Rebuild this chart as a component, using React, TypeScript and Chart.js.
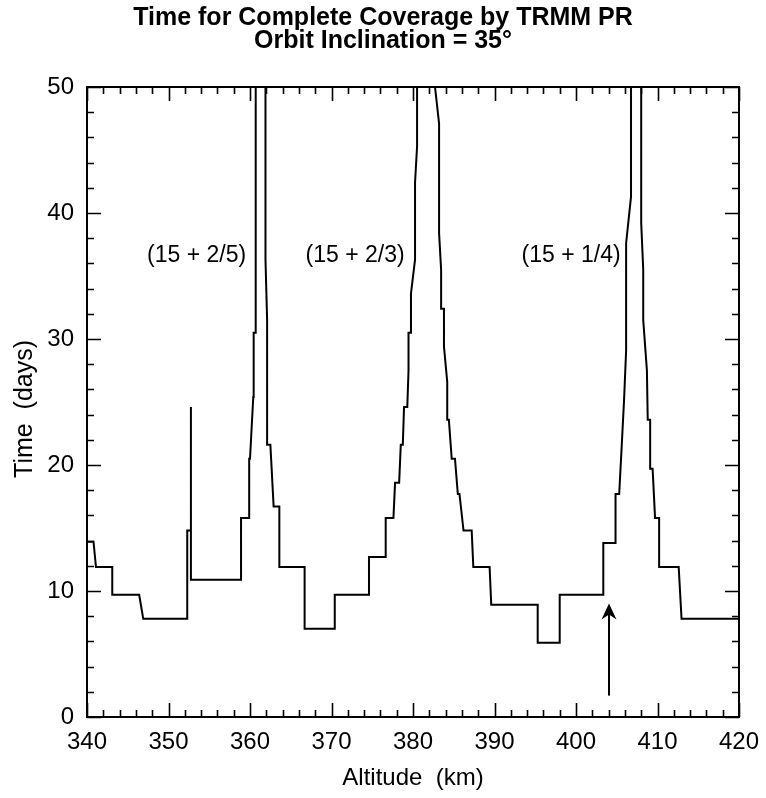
import React, { useEffect, useRef } from 'react';
import { Chart, registerables } from 'chart.js';

Chart.register(...registerables);

// ---- Data (altitude in km, coverage time in days) ----
const altitudeKm: number[] = [
  340.0, 340.8, 341.1, 343.1, 343.1, 346.4, 346.9, 352.3, 352.3, 352.75,
  352.75, 352.75, 358.9, 358.9, 359.9, 359.9, 360.0, 360.4, 360.45, 360.7,
  360.7, 361.9, 361.9, 362.1, 362.1, 362.5, 362.9, 363.6, 363.6, 366.7,
  366.7, 370.4, 370.4, 374.6, 374.6, 376.65, 376.65, 377.6, 377.8, 378.3,
  378.5, 378.75, 378.9, 379.3, 379.45, 379.45, 379.75, 379.75, 380.25, 380.25,
  380.5, 380.5, 382.7, 382.7, 383.2, 383.2, 383.45, 383.45, 383.8, 383.8,
  384.2, 384.2, 384.4, 384.75, 385.15, 385.5, 385.7, 386.2, 387.2, 387.4,
  389.4, 389.6, 395.3, 395.3, 398.0, 398.0, 403.35, 403.35, 404.85, 404.85,
  405.3, 405.6, 405.9, 406.15, 406.15, 406.75, 406.75, 408.0, 408.0, 408.25,
  408.25, 408.7, 408.8, 409.1, 409.1, 409.4, 409.7, 410.2, 410.2, 412.6,
  412.95, 420.0,
];
const coverageDays: number[] = [
  13.9, 13.9, 11.9, 11.9, 9.7, 9.7, 7.8, 7.8, 14.8, 14.8,
  24.6, 10.9, 10.9, 15.8, 15.8, 20.5, 20.5, 25.4, 30.5, 30.5,
  60, 60, 36.3, 31.5, 21.6, 21.6, 16.7, 16.7, 11.9, 11.9,
  7.0, 7.0, 9.7, 9.7, 12.7, 12.7, 15.8, 15.8, 18.6, 18.6,
  21.6, 21.6, 24.6, 24.6, 27.5, 30.5, 30.5, 33.6, 36.3, 42.4,
  45.3, 60, 60, 50, 47.1, 38.4, 35.5, 32.4, 32.4, 29.4,
  26.6, 23.6, 23.6, 20.5, 20.5, 17.7, 17.7, 14.8, 14.8, 11.9,
  11.9, 8.9, 8.9, 5.9, 5.9, 9.7, 9.7, 13.8, 13.8, 17.7,
  17.7, 21.4, 25.2, 29.1, 37.6, 41.3, 60, 60, 39.2, 35.5,
  31.5, 27.5, 23.6, 23.6, 19.7, 19.7, 15.8, 15.8, 11.9, 11.9,
  7.8, 7.8,
];

const arrowAltitude: number[] = [404.05, 404.05];
const arrowDays: number[] = [1.7, 8.2];
const arrowTipDays = 9.0;

const peakLabels: string[] = ['(15 + 2/5)', '(15 + 2/3)', '(15 + 1/4)'];
const peakLabelAltitude: number[] = [353.45, 372.9, 399.4];
const peakLabelDays: number[] = [36.6, 36.6, 36.6];

const xMin = 340;
const xMax = 420;
const xMajorStep = 10;
const xMinorStep = 2;
const yMin = 0;
const yMax = 50;
const yMajorStep = 10;
const yMinorStep = 2;

const titleLines: string[] = ['Time for Complete Coverage by TRMM PR', 'Orbit Inclination = 35°'];
const xTitle = 'Altitude  (km)';
const yTitle = 'Time  (days)  ';

const FONT = "'Liberation Sans', Arial, Helvetica, sans-serif";

const framePlugin = {
  id: 'frameTicks',
  afterDatasetsDraw(chart: any) {
    const { ctx, chartArea: a, scales } = chart;
    const x = scales.x;
    const y = scales.y;
    ctx.save();
    ctx.strokeStyle = '#000';
    ctx.lineCap = 'butt';
    // ticks (inward, mirrored)
    ctx.lineWidth = 1.6;
    ctx.beginPath();
    for (let v = xMin; v <= xMax + 1e-9; v += xMinorStep) {
      const px = Math.round(x.getPixelForValue(v)) + 0.5;
      const len = Math.abs(v % xMajorStep) < 1e-9 ? 14 : 7;
      ctx.moveTo(px, a.bottom);
      ctx.lineTo(px, a.bottom - len);
      ctx.moveTo(px, a.top);
      ctx.lineTo(px, a.top + len);
    }
    for (let v = yMin; v <= yMax + 1e-9; v += yMinorStep) {
      const py = Math.round(y.getPixelForValue(v)) + 0.5;
      const len = Math.abs(v % yMajorStep) < 1e-9 ? 14 : 7;
      ctx.moveTo(a.left, py);
      ctx.lineTo(a.left + len, py);
      ctx.moveTo(a.right, py);
      ctx.lineTo(a.right - len, py);
    }
    ctx.stroke();
    // frame
    ctx.lineWidth = 2;
    ctx.strokeRect(a.left, a.top, a.right - a.left, a.bottom - a.top);

    // arrow head
    const tx = x.getPixelForValue(arrowAltitude[0]);
    const ty = y.getPixelForValue(arrowTipDays);
    ctx.fillStyle = '#000';
    ctx.beginPath();
    ctx.moveTo(tx, ty);
    ctx.lineTo(tx - 7.5, ty + 16);
    ctx.lineTo(tx, ty + 11);
    ctx.lineTo(tx + 7.5, ty + 16);
    ctx.closePath();
    ctx.fill();

    // peak labels
    ctx.font = `23px ${FONT}`;
    ctx.textAlign = 'center';
    ctx.textBaseline = 'middle';
    for (let i = 0; i < peakLabels.length; i++) {
      ctx.fillText(peakLabels[i], x.getPixelForValue(peakLabelAltitude[i]), y.getPixelForValue(peakLabelDays[i]));
    }
    ctx.restore();
  },
};

export default function App() {
  const canvasRef = useRef<HTMLCanvasElement | null>(null);

  useEffect(() => {
    document.body.style.margin = '0';
    const canvas = canvasRef.current;
    if (!canvas) return;
    const chart = new Chart(canvas, {
      type: 'line',
      data: {
        datasets: [
          {
            data: altitudeKm.map((a, i) => ({ x: a, y: coverageDays[i] })),
            borderColor: '#000',
            borderWidth: 2,
            pointRadius: 0,
            tension: 0,
            fill: false,
          },
          {
            data: arrowAltitude.map((a, i) => ({ x: a, y: arrowDays[i] })),
            borderColor: '#000',
            borderWidth: 2,
            pointRadius: 0,
            tension: 0,
            fill: false,
          },
        ],
      },
      plugins: [framePlugin],
      options: {
        responsive: false,
        animation: false,
        events: [],
        layout: { padding: { left: 27, right: 27, top: 0, bottom: 0 } },
        plugins: {
          legend: { display: false },
          tooltip: { enabled: false },
          title: {
            display: true,
            text: titleLines,
            color: '#000',
            font: { family: FONT, size: 25, weight: 'bold', lineHeight: '23px' },
            padding: { top: 7, bottom: 34 },
          },
        },
        scales: {
          x: {
            type: 'linear',
            min: xMin,
            max: xMax,
            grid: { display: false, drawTicks: false },
            border: { display: false },
            ticks: {
              stepSize: xMajorStep,
              color: '#000',
              font: { family: FONT, size: 24 },
              padding: 11,
              maxRotation: 0,
            },
            title: {
              display: true,
              text: xTitle,
              color: '#000',
              font: { family: FONT, size: 24 },
              padding: { top: 0, bottom: 5 },
            },
            afterFit: (s: any) => {
              s.height = 81;
              s.paddingLeft = 0;
              s.paddingRight = 0;
            },
          },
          y: {
            type: 'linear',
            min: yMin,
            max: yMax,
            grid: { display: false, drawTicks: false },
            border: { display: false },
            ticks: {
              stepSize: yMajorStep,
              color: '#000',
              font: { family: FONT, size: 24 },
              padding: 13,
            },
            title: {
              display: true,
              text: yTitle,
              color: '#000',
              font: { family: FONT, size: 25 },
              padding: { top: -17, bottom: 0 },
            },
            afterFit: (s: any) => {
              s.width = 60;
              s.paddingTop = 0;
              s.paddingBottom = 0;
            },
          },
        },
      },
    } as any);
    return () => chart.destroy();
  }, []);

  return (
    <div style={{ width: 766, height: 798 }}>
      <canvas ref={canvasRef} width={766} height={798} />
    </div>
  );
}
